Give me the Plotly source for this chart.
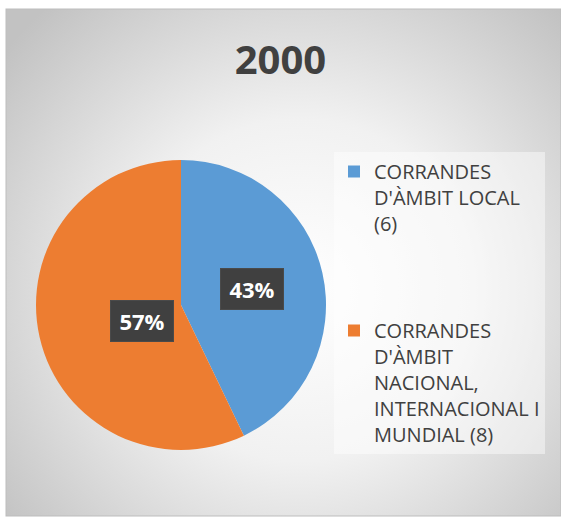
import base64
import math
import plotly.graph_objects as go

# ---- data ----
categories = ["CORRANDES D'ÀMBIT LOCAL (6)",
              "CORRANDES D'ÀMBIT NACIONAL, INTERNACIONAL I MUNDIAL (8)"]
legend_labels = ["CORRANDES<br>D'ÀMBIT LOCAL<br>(6)<br> <br> <br> ",
                 "CORRANDES<br>D'ÀMBIT<br>NACIONAL,<br>INTERNACIONAL I<br>MUNDIAL (8)"]
values = [6, 8]
colors = ["#5b9bd5", "#ed7d31"]
title_text = "2000"

W, H = 561, 517

# background (radial gradient panel)
svg = f'''<svg xmlns="http://www.w3.org/2000/svg" width="{W}" height="{H}" viewBox="0 0 {W} {H}" preserveAspectRatio="none">
<defs><radialGradient id="g" gradientUnits="userSpaceOnUse" cx="300" cy="290" r="380">
<stop offset="0" stop-color="#ffffff"/><stop offset="0.45" stop-color="#f1f1f1"/><stop offset="1" stop-color="#c2c2c2"/>
</radialGradient></defs>
<rect x="6" y="9" width="{W-6}" height="{H-10}" fill="url(#g)" stroke="#bdbdbd" stroke-width="1"/>
</svg>'''
src = "data:image/svg+xml;base64," + base64.b64encode(svg.encode()).decode()

# pie domain in pixels
px0, px1, py0, py1 = 36, 326, 160, 450
dom_x = [px0 / W, px1 / W]
dom_y = [1 - py1 / H, 1 - py0 / H]

fig = go.Figure()
fig.add_trace(go.Pie(
    labels=legend_labels, values=values, sort=False, direction="clockwise",
    rotation=0, marker=dict(colors=colors, line=dict(color="#ffffff", width=0)),
    textinfo="none", hoverinfo="label+percent",
    domain=dict(x=dom_x, y=dom_y),
))

# percentage labels placed from the data (mid-angle of each slice)
cx, cy = (px0 + px1) / 2, (py0 + py1) / 2
rad = (px1 - px0) / 2
total = sum(values)
cum = 0
for v in values:
    mid = (cum + v / 2) / total * 2 * math.pi
    cum += v
    lx = cx + 0.5 * rad * math.sin(mid)
    ly = cy - 0.5 * rad * math.cos(mid)
    fig.add_annotation(
        x=lx / W, y=1 - ly / H, xref="paper", yref="paper",
        text=f"<b>{round(v / total * 100)}%</b>", showarrow=False,
        font=dict(family="Open Sans", size=22, color="#ffffff"),
        bgcolor="#404040", bordercolor="#4a4a4a", borderwidth=1,
        borderpad=8, width=46, height=24,
    )

fig.update_layout(
    width=W, height=H,
    margin=dict(l=0, r=0, t=0, b=0),
    paper_bgcolor="#ffffff", plot_bgcolor="rgba(0,0,0,0)",
    title=dict(text=f"<b>{title_text}</b>", x=0.5, xanchor="center",
               y=1 - 60 / H, yanchor="middle",
               font=dict(family="Open Sans", size=40, color="#404040")),
    showlegend=True,
    legend=dict(x=334 / W, y=1 - 152 / H, xanchor="left", yanchor="top",
                bgcolor="rgba(255,255,255,0.45)", valign="top",
                font=dict(family="Open Sans", size=20, color="#404040"),
                itemwidth=30, tracegroupgap=0),
    images=[dict(source=src, xref="paper", yref="paper", x=0, y=1,
                 sizex=1, sizey=1, xanchor="left", yanchor="top",
                 sizing="stretch", layer="below")],
)

fig.write_html("out.html", config={"displayModeBar": False},
               post_script="document.body.style.margin='0';document.body.style.overflow='hidden';")
